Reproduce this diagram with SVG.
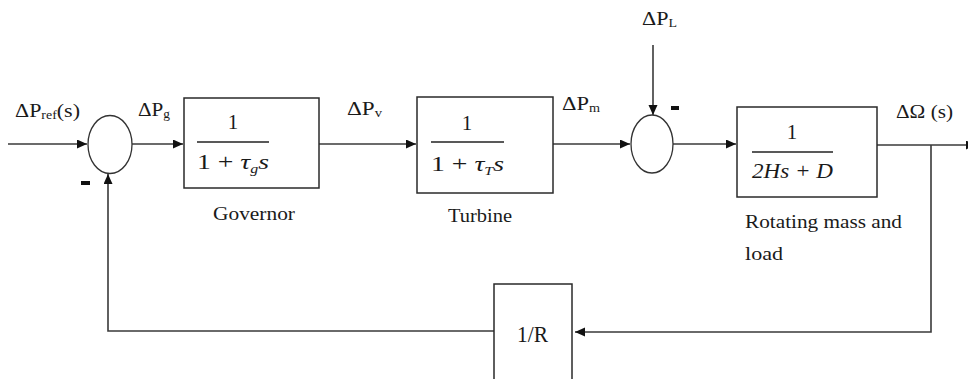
<svg xmlns="http://www.w3.org/2000/svg" width="968" height="379" viewBox="0 0 968 379">
<style>
.ln{fill:none;stroke:#3a3a3a;stroke-width:1.6}
.bx{fill:#fff;stroke:#2a2a2a;stroke-width:1.5}
.sj{fill:#fff;stroke:#333;stroke-width:1.3}
.lb{font-family:'Liberation Serif','DejaVu Serif',serif;font-size:19px;fill:#1a1a1a}
.mt{font-family:'Liberation Serif','DejaVu Serif',serif;font-size:21px;fill:#1a1a1a}
.it{font-style:italic}
.fl{stroke:#222;stroke-width:1.3}
.sub{font-size:12px}
.big{font-size:24px}
.neg{fill:#111}
</style>
<defs>
<marker id="ah" markerUnits="userSpaceOnUse" markerWidth="11" markerHeight="10" refX="10" refY="4.5" orient="auto">
<path d="M0,0 L10,4.5 L0,9 z" fill="#111"/>
</marker>
</defs>

<g id="connectors">
<line class="ln" x1="8" y1="144" x2="87" y2="144" marker-end="url(#ah)"/>
<line class="ln" x1="132" y1="144" x2="183" y2="144" marker-end="url(#ah)"/>
<line class="ln" x1="319" y1="144" x2="416" y2="144" marker-end="url(#ah)"/>
<line class="ln" x1="553" y1="144" x2="630" y2="144" marker-end="url(#ah)"/>
<line class="ln" x1="653" y1="45" x2="653" y2="115" marker-end="url(#ah)"/>
<line class="ln" x1="673" y1="144" x2="736" y2="144" marker-end="url(#ah)"/>
<line class="ln" x1="877" y1="145" x2="976" y2="145" marker-end="url(#ah)"/>
<polyline class="ln" points="931,145 931,332 575,332" marker-end="url(#ah)"/>
<polyline class="ln" points="494,331 108,331 108,174" marker-end="url(#ah)"/>
</g>

<g id="input-label">
<text class="lb" x="15" y="117" textLength="65" lengthAdjust="spacingAndGlyphs">ΔP<tspan class="sub" dy="2">ref</tspan><tspan dy="-2">(s)</tspan></text>
</g>

<g id="sum1">
<ellipse class="sj" cx="110" cy="144.5" rx="22" ry="29"/>
<rect class="neg" x="81" y="181" width="9" height="4"/>
<text class="lb" x="138" y="116" textLength="32" lengthAdjust="spacingAndGlyphs">ΔP<tspan class="sub" dy="2">g</tspan></text>
</g>

<g id="governor">
<rect class="bx" x="184" y="98" width="135" height="90"/>
<text class="mt" x="233" y="129" text-anchor="middle">1</text>
<line class="fl" x1="197" y1="142" x2="269" y2="142"/>
<text class="mt" x="197" y="169" textLength="72" lengthAdjust="spacingAndGlyphs">1 + <tspan class="it">τ</tspan><tspan class="it sub" dy="4">g</tspan><tspan class="it" dy="-4">s</tspan></text>
<text class="lb" x="213" y="220" textLength="82" lengthAdjust="spacingAndGlyphs">Governor</text>
</g>

<g id="label-pv">
<text class="lb" x="347" y="115" textLength="35" lengthAdjust="spacingAndGlyphs">ΔP<tspan class="sub" dy="2">v</tspan></text>
</g>

<g id="turbine">
<rect class="bx" x="417" y="97" width="136" height="96"/>
<text class="mt" x="467" y="130" text-anchor="middle">1</text>
<line class="fl" x1="431" y1="142" x2="504" y2="142"/>
<text class="mt" x="431" y="171" textLength="73" lengthAdjust="spacingAndGlyphs">1 + <tspan class="it">τ</tspan><tspan class="it sub" dy="4">T</tspan><tspan class="it" dy="-4">s</tspan></text>
<text class="lb" x="448" y="222" textLength="64" lengthAdjust="spacingAndGlyphs">Turbine</text>
<text class="lb" x="562" y="110" textLength="38" lengthAdjust="spacingAndGlyphs">ΔP<tspan class="sub" dy="2">m</tspan></text>
</g>

<g id="sum2">
<ellipse class="sj" cx="652" cy="144" rx="21" ry="29"/>
<rect class="neg" x="671" y="106" width="8" height="4"/>
<text class="lb" x="642" y="25" textLength="35" lengthAdjust="spacingAndGlyphs">ΔP<tspan class="sub" dy="2">L</tspan></text>
</g>

<g id="rotating-mass">
<rect class="bx" x="737" y="107" width="140" height="90"/>
<text class="mt" x="792" y="139" text-anchor="middle">1</text>
<line class="fl" x1="752" y1="152" x2="833" y2="152"/>
<text class="mt it" x="752" y="178" textLength="81" lengthAdjust="spacingAndGlyphs">2Hs + D</text>
<text class="lb" x="745" y="228" textLength="157" lengthAdjust="spacingAndGlyphs">Rotating mass and</text>
<text class="lb" x="745" y="260" textLength="38" lengthAdjust="spacingAndGlyphs">load</text>
<text class="lb" x="896" y="118" textLength="57" lengthAdjust="spacingAndGlyphs">ΔΩ (s)</text>
</g>

<g id="droop">
<rect class="bx" x="494" y="284" width="78" height="110"/>
<text class="lb big" x="517" y="342" textLength="31" lengthAdjust="spacingAndGlyphs">1/R</text>
</g>
</svg>
